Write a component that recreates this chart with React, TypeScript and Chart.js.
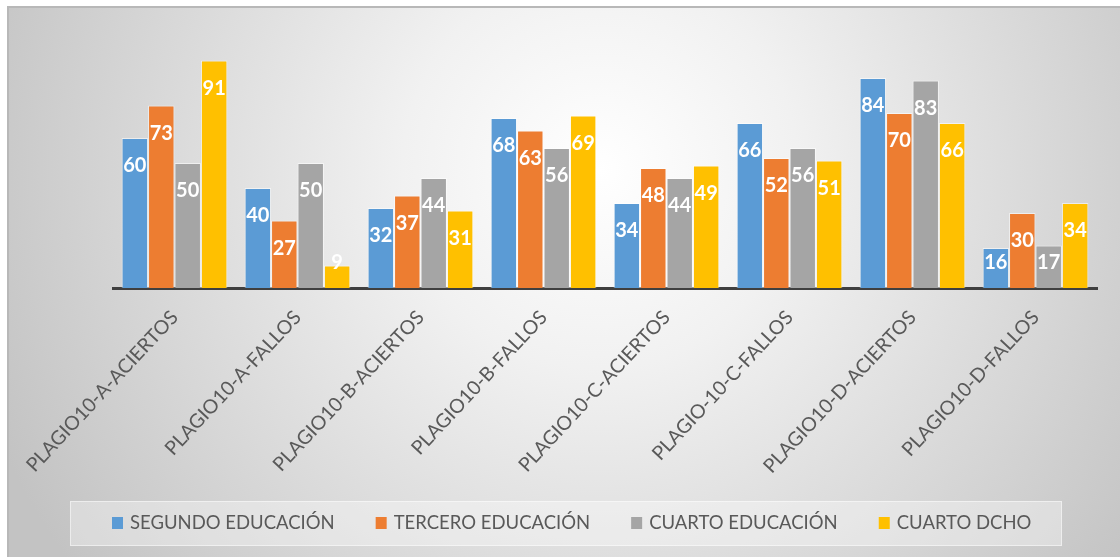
import { useEffect, useRef } from "react";
import { Chart, registerables } from "chart.js";

Chart.register(...registerables);

const categories = [
  "PLAGIO10-A-ACIERTOS",
  "PLAGIO10-A-FALLOS",
  "PLAGIO10-B-ACIERTOS",
  "PLAGIO10-B-FALLOS",
  "PLAGIO10-C-ACIERTOS",
  "PLAGIO-10-C-FALLOS",
  "PLAGIO10-D-ACIERTOS",
  "PLAGIO10-D-FALLOS",
];
const seriesNames = ["SEGUNDO EDUCACIÓN", "TERCERO EDUCACIÓN", "CUARTO EDUCACIÓN", "CUARTO DCHO"];
const segundoEducacion = [60, 40, 32, 68, 34, 66, 84, 16];
const terceroEducacion = [73, 27, 37, 63, 48, 52, 70, 30];
const cuartoEducacion = [50, 50, 44, 56, 44, 56, 83, 17];
const cuartoDcho = [91, 9, 31, 69, 49, 51, 66, 34];
const seriesColors = ["#5B9BD5", "#ED7D31", "#A5A5A5", "#FFC000"];

const FONT = "Lato, 'Open Sans', sans-serif";

const backgroundPlugin = {
  id: "bgFrame",
  beforeDraw(chart: any) {
    const { ctx, width, height } = chart;
    ctx.save();
    ctx.fillStyle = "#ffffff";
    ctx.fillRect(0, 0, width, height);
    const g = ctx.createRadialGradient(600, 170, 0, 600, 170, 660);
    g.addColorStop(0, "#ffffff");
    g.addColorStop(0.3, "#f1f1f1");
    g.addColorStop(1, "#c3c3c3");
    ctx.fillStyle = g;
    ctx.fillRect(7, 6, width - 7, height - 6);
    ctx.strokeStyle = "#b8b8b8";
    ctx.lineWidth = 2;
    ctx.beginPath();
    ctx.moveTo(7, 7);
    ctx.lineTo(width, 7);
    ctx.moveTo(8, 6);
    ctx.lineTo(8, height);
    ctx.stroke();
    ctx.restore();
  },
};

const valueLabelPlugin = {
  id: "valueLabels",
  afterDatasetsDraw(chart: any) {
    const { ctx } = chart;
    ctx.save();
    ctx.font = `bold 20px ${FONT}`;
    ctx.fillStyle = "#ffffff";
    ctx.textAlign = "center";
    ctx.textBaseline = "middle";
    chart.data.datasets.forEach((ds: any, di: number) => {
      const meta = chart.getDatasetMeta(di);
      meta.data.forEach((bar: any, i: number) => {
        const y = Math.min(bar.y + 28, bar.base - 25);
        ctx.fillText(String(ds.data[i]), bar.x, y);
      });
    });
    ctx.restore();
  },
};

const legendPlugin = {
  id: "customLegend",
  afterDraw(chart: any) {
    const { ctx } = chart;
    ctx.save();
    ctx.font = `18.5px ${FONT}`;
    const boxX = 70, boxY = 501, boxW = 992, boxH = 45;
    ctx.fillStyle = "rgba(255,255,255,0.35)";
    ctx.fillRect(boxX, boxY, boxW, boxH);
    ctx.strokeStyle = "rgba(255,255,255,0.5)";
    ctx.lineWidth = 1;
    ctx.strokeRect(boxX + 0.5, boxY + 0.5, boxW - 1, boxH - 1);
    let x = 112;
    const cy = 523;
    ctx.textBaseline = "middle";
    ctx.textAlign = "left";
    chart.data.datasets.forEach((ds: any) => {
      ctx.fillStyle = ds.backgroundColor;
      ctx.fillRect(x, cy - 6, 11, 12);
      ctx.fillStyle = "#595959";
      ctx.fillText(ds.label, x + 18, cy);
      x += 18 + ctx.measureText(ds.label).width + 41;
    });
    ctx.restore();
  },
};

export default function App() {
  const canvasRef = useRef<HTMLCanvasElement | null>(null);

  useEffect(() => {
    if (!canvasRef.current) return;
    const values = [segundoEducacion, terceroEducacion, cuartoEducacion, cuartoDcho];
    const chart = new Chart(canvasRef.current, {
      type: "bar",
      data: {
        labels: categories,
        datasets: seriesNames.map((name, i) => ({
          label: name,
          data: values[i],
          backgroundColor: seriesColors[i],
          borderColor: "rgba(255,255,255,0.55)",
          borderWidth: 1,
          barPercentage: 1,
          categoryPercentage: 0.86,
        })),
      },
      options: {
        animation: false,
        responsive: false,
        maintainAspectRatio: false,
        layout: { padding: { left: 113, right: 23, top: 38, bottom: 69 } },
        font: { family: FONT },
        plugins: {
          legend: { display: false },
          tooltip: { enabled: false },
        },
        scales: {
          x: {
            grid: { display: false },
            border: { display: true, color: "#3f3f3f", width: 3 },
            ticks: {
              color: "#595959",
              font: { family: FONT, size: 19.5 },
              minRotation: 47,
              maxRotation: 47,
              padding: 10,
              autoSkip: false,
            },
            afterFit: (scale: any) => {
              scale.height = 200;
            },
          },
          y: {
            display: false,
            min: 0,
            max: 100,
          },
        },
      } as any,
      plugins: [backgroundPlugin, valueLabelPlugin, legendPlugin],
    });
    return () => chart.destroy();
  }, []);

  return (
    <div style={{ position: "absolute", left: 0, top: 0, width: 1120, height: 557 }}>
      <canvas ref={canvasRef} width={1120} height={557} />
    </div>
  );
}
